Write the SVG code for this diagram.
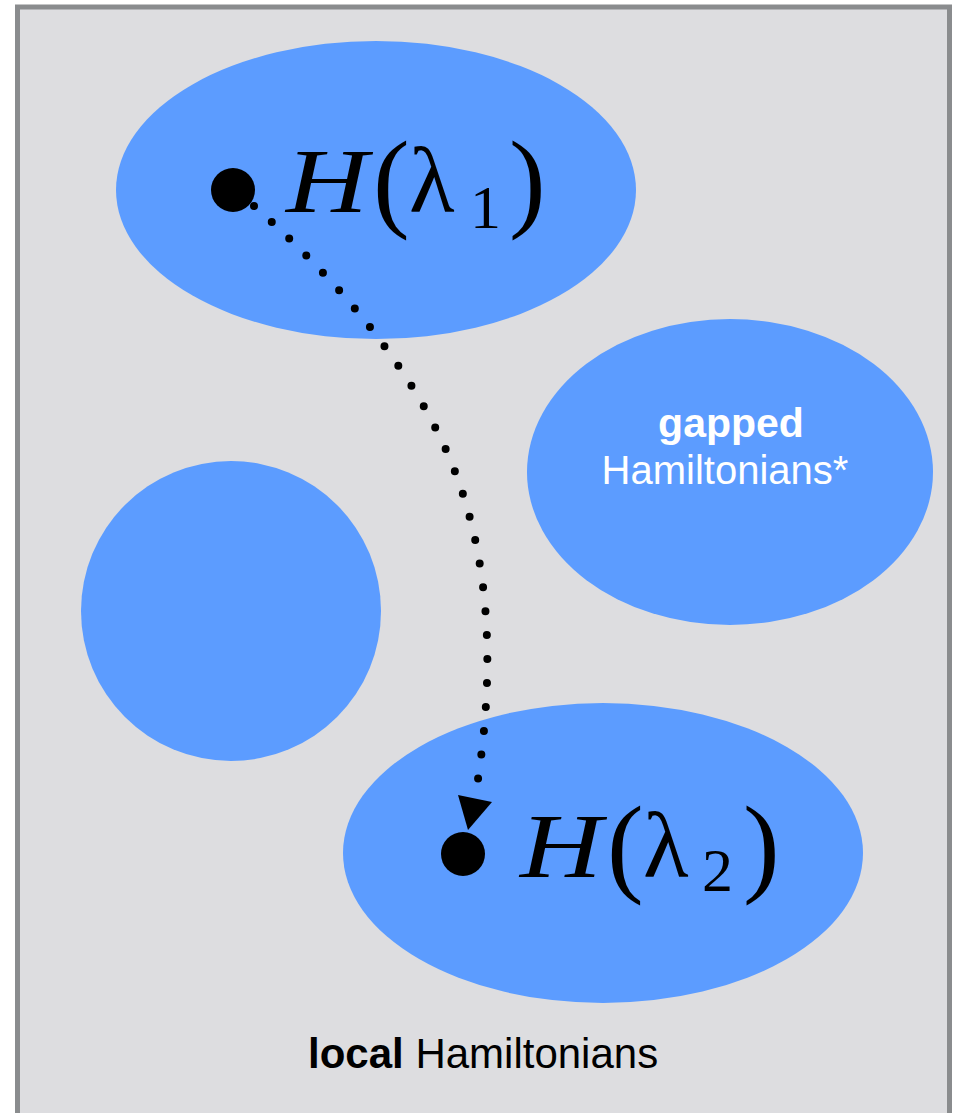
<svg xmlns="http://www.w3.org/2000/svg" width="955" height="1113" viewBox="0 0 955 1113">
<defs>
<style>
.blob{fill:#5c9cff;stroke:none}
.dot{fill:#000}
.sans{font-family:"Liberation Sans",Arial,sans-serif}
.mi{font-family:"Liberation Serif","Times New Roman",serif;font-style:italic;font-size:92px;fill:#000}
.gr{font-family:"Liberation Serif","Times New Roman",serif;font-size:94px;fill:#000}
.par{font-family:"Liberation Serif","Times New Roman",serif;font-size:110px;fill:#000}
.sub{font-family:"Liberation Serif","Times New Roman",serif;font-size:62px;fill:#000}
.conn{fill:none;stroke:#000;stroke-width:8;stroke-linecap:round;stroke-dasharray:0 24}
</style>
<g id="hlabel">
<text class="mi" x="286" y="212" textLength="82" lengthAdjust="spacingAndGlyphs">H</text>
<text class="par" x="373" y="217">(</text>
<text class="gr" x="409" y="212">λ</text>
<text class="par" x="509" y="217">)</text>
</g>
</defs>
<rect id="frame" x="17.5" y="7" width="932" height="1130" fill="#dddde0" stroke="#8a8c8e" stroke-width="5"/>
<g id="region-top">
<ellipse class="blob" cx="376" cy="190" rx="260" ry="149"/>
</g>
<g id="region-gapped">
<ellipse class="blob" cx="730" cy="472" rx="203" ry="153"/>
<text class="sans" x="731" y="437" text-anchor="middle" font-size="41" font-weight="bold" fill="#fff">gapped</text>
<text class="sans" x="725" y="484" text-anchor="middle" font-size="40" fill="#fff">Hamiltonians*</text>
</g>
<g id="region-circle">
<circle class="blob" cx="231" cy="611" r="150"/>
</g>
<g id="region-bottom">
<ellipse class="blob" cx="603" cy="853" rx="260" ry="150"/>
</g>
<g id="connectors">
<path class="conn" pathLength="648.5" d="M254,206 C325,269 391,342 435,427 C488,529 497.5,649 478,779"/>
<polygon points="458,795 492,802 468,830" fill="#000"/>
</g>
<g id="node-h1">
<circle class="dot" cx="233" cy="190" r="22"/>
<use href="#hlabel"/>
<text class="sub" x="470" y="228">1</text>
</g>
<g id="node-h2">
<circle class="dot" cx="463" cy="854" r="22"/>
<use href="#hlabel" transform="translate(234,665)"/>
<text class="sub" x="702" y="891">2</text>
</g>
<g id="label-local">
<text class="sans" x="308" y="1068" font-size="42"><tspan font-weight="bold">local</tspan> Hamiltonians</text>
</g>
</svg>
